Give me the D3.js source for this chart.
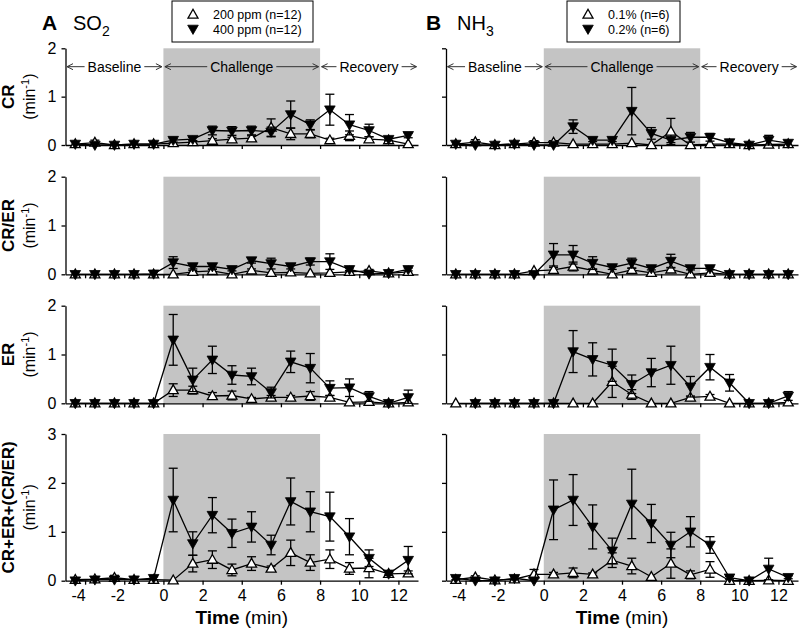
<!DOCTYPE html>
<html><head><meta charset="utf-8">
<script src="https://cdn.jsdelivr.net/npm/d3@7"></script>
<style>body{margin:0;background:#fff;} svg{display:block;font-family:"Liberation Sans",Arial,sans-serif;}</style>
</head><body>
<svg id="chart" width="800" height="630"></svg>
<script>
const time = [-4.5,-3.5,-2.5,-1.5,-0.5,0.5,1.5,2.5,3.5,4.5,5.5,6.5,7.5,8.5,9.5,10.5,11.5,12.5];
const xTicks = [-4,-2,0,2,4,6,8,10,12];
const rowLabels = ["CR","CR/ER","ER","CR+ER+(CR/ER)"];
const rowMax = [2,2,2,3];
const phases = [{name:"Baseline",from:-5,to:0},{name:"Challenge",from:0,to:8},{name:"Recovery",from:8,to:13}];
const legendSO2 = ["200 ppm (n=12)","400 ppm (n=12)"];
const legendNH3 = ["0.1% (n=6)","0.2% (n=6)"];

// SO2 column
const so2_cr_200    = [0.02,0.05,0,0.02,0.02,0.04,0.06,0.09,0.12,0.14,0.36,0.23,0.23,0.1,0.19,0.12,0.1,0.02];
const so2_cr_200_se = [0.01,0.05,0,0.01,0.01,0.02,0.03,0.04,0.04,0.05,0.18,0.12,0.08,0.04,0.1,0.05,0.03,0.01];
const so2_cr_400    = [0.02,0,0,0.02,0.02,0.1,0.12,0.3,0.29,0.3,0.27,0.63,0.42,0.73,0.42,0.3,0.12,0.2];
const so2_cr_400_se = [0.02,0.02,0,0.02,0.02,0.04,0.04,0.09,0.09,0.09,0.1,0.28,0.1,0.32,0.21,0.13,0.03,0.05];

const so2_crer_200    = [0,0,0,0,0,0,0.05,0.07,0,0.08,0.03,0.04,0.02,0.03,0.05,0.07,0.02,0.05];
const so2_crer_200_se = [0,0,0,0,0,0,0.03,0.03,0,0.03,0.02,0.02,0.02,0.02,0.03,0.03,0.01,0.02];
const so2_crer_400    = [0,0,0,0,0.01,0.24,0.16,0.16,0.1,0.28,0.22,0.16,0.26,0.26,0.1,0.01,0.02,0.1];
const so2_crer_400_se = [0,0,0,0,0.01,0.12,0.05,0.05,0.03,0.05,0.11,0.05,0.07,0.16,0.03,0.01,0.01,0.03];

const so2_er_200    = [0,0,0,0,0,0.27,0.27,0.15,0.16,0.09,0.12,0.12,0.15,0.12,0.02,0.03,0,0.02];
const so2_er_200_se = [0,0,0,0,0,0.13,0.08,0.07,0.09,0.03,0.04,0.04,0.09,0.04,0.01,0.02,0,0.01];
const so2_er_400    = [0,0,0,0,0,1.3,0.48,0.89,0.58,0.55,0.22,0.85,0.72,0.31,0.32,0.14,0,0.12];
const so2_er_400_se = [0,0,0,0,0,0.52,0.24,0.28,0.19,0.17,0.11,0.22,0.3,0.15,0.18,0.1,0,0.15];

const so2_sum_200    = [0.02,0.03,0.06,0.02,0.02,0.01,0.35,0.43,0.22,0.35,0.25,0.57,0.37,0.44,0.25,0.26,0.14,0.15];
const so2_sum_200_se = [0.01,0.02,0.05,0.01,0.02,0.01,0.17,0.18,0.12,0.14,0.05,0.26,0.16,0.19,0.12,0.2,0.03,0.05];
const so2_sum_400    = [0,0.02,0.02,0.02,0.05,1.65,0.76,1.34,0.97,1.1,0.73,1.62,1.41,1.31,0.9,0.46,0.14,0.42];
const so2_sum_400_se = [0.01,0.02,0.02,0.02,0.03,0.65,0.24,0.36,0.29,0.31,0.2,0.48,0.41,0.5,0.37,0.17,0.03,0.28];

// NH3 column
const nh3_cr_01    = [0.02,0.06,0,0.02,0.05,0.05,0.02,0.02,0.02,0.04,0,0.28,0,0.02,0.02,0,0.01,0.02];
const nh3_cr_01_se = [0.01,0.05,0,0.01,0.04,0.04,0.01,0.01,0.01,0.02,0,0.27,0,0.01,0.01,0,0.01,0.01];
const nh3_cr_02    = [0.02,0,0,0.02,0,0,0.38,0.1,0.1,0.7,0.24,0.1,0.16,0.16,0.05,0,0.1,0.04];
const nh3_cr_02_se = [0.02,0.02,0,0.02,0.02,0.02,0.14,0.03,0.03,0.49,0.12,0.05,0.1,0.08,0.02,0,0.1,0.02];

const nh3_crer_01    = [0,0,0,0,0.07,0.09,0.16,0.08,0,0.09,0.03,0.1,0,0.03,0,0,0,0];
const nh3_crer_01_se = [0,0,0,0,0.02,0.05,0.09,0.03,0,0.03,0.02,0.04,0,0.02,0,0,0,0];
const nh3_crer_02    = [0,0,0,0,0,0.4,0.4,0.23,0.14,0.23,0.12,0.27,0.12,0.12,0,0,0,0];
const nh3_crer_02_se = [0,0,0,0,0,0.23,0.19,0.13,0.04,0.1,0.03,0.14,0.03,0.03,0,0,0,0];

const nh3_er_01    = [0,0,0,0,0,0,0,0,0.44,0.18,0,0,0.12,0.14,0,0,0,0.02];
const nh3_er_01_se = [0,0,0,0,0,0,0,0,0.32,0.1,0,0,0.03,0.04,0,0,0,0.01];
const nh3_er_02    = [null,0,0,0,0,0,1.06,0.9,0.78,0.39,0.63,0.78,0.34,0.74,0.42,0,0,0.15];
const nh3_er_02_se = [0,0,0,0,0,0,0.43,0.34,0.33,0.19,0.29,0.39,0.21,0.26,0.17,0,0,0.09];

const nh3_sum_01    = [0.02,0.07,0.01,0.03,0.13,0.13,0.16,0.13,0.42,0.3,0.08,0.35,0.12,0.23,0,0,0.01,0];
const nh3_sum_01_se = [0.01,0.03,0.01,0.02,0.1,0.04,0.1,0.03,0.15,0.16,0.02,0.3,0.08,0.16,0,0,0.01,0];
const nh3_sum_02    = [0.05,0,0,0.05,0,1.45,1.65,1.1,0.61,1.57,1.17,0.73,1.0,0.73,0.06,0,0.24,0.07];
const nh3_sum_02_se = [0.03,0.02,0,0.03,0.02,0.61,0.52,0.45,0.26,0.71,0.39,0.26,0.31,0.17,0.03,0,0.22,0.03];

const so2Rows = [
  [so2_cr_200,so2_cr_200_se,so2_cr_400,so2_cr_400_se],
  [so2_crer_200,so2_crer_200_se,so2_crer_400,so2_crer_400_se],
  [so2_er_200,so2_er_200_se,so2_er_400,so2_er_400_se],
  [so2_sum_200,so2_sum_200_se,so2_sum_400,so2_sum_400_se]];
const nh3Rows = [
  [nh3_cr_01,nh3_cr_01_se,nh3_cr_02,nh3_cr_02_se],
  [nh3_crer_01,nh3_crer_01_se,nh3_crer_02,nh3_crer_02_se],
  [nh3_er_01,nh3_er_01_se,nh3_er_02,nh3_er_02_se],
  [nh3_sum_01,nh3_sum_01_se,nh3_sum_02,nh3_sum_02_se]];

const svg = d3.select("#chart");
const rowPix = [[145,48.3],[274.3,176.7],[403.3,305.7],[580.7,434]];
const cols = [
  {x: d3.scaleLinear().domain([-5,13]).range([65.5,418]), rows: so2Rows, yLabels:true},
  {x: d3.scaleLinear().domain([-5,13]).range([446,798]), rows: nh3Rows, yLabels:false}];

const upTri = "M0,-5.2L5,3.6L-5,3.6Z";
const downTri = "M0,5.4L5.3,-3.8L-5.3,-3.8Z";
const SW = 1.3;

cols.forEach((col, ci) => {
  const x = col.x;
  rowPix.forEach((rp, ri) => {
    const y = d3.scaleLinear().domain([0,rowMax[ri]]).range(rp);
    const g = svg.append("g");
    g.append("rect").attr("x",x(0)).attr("y",y(rowMax[ri])).attr("width",x(8)-x(0))
      .attr("height",y(0)-y(rowMax[ri])).attr("fill","#c4c4c4");
    const ya = d3.axisLeft(y).tickValues(d3.range(0,rowMax[ri]+1)).tickSize(4).tickSizeOuter(0).tickPadding(5)
      .tickFormat(col.yLabels ? d3.format("d") : "");
    const yg = g.append("g").attr("transform",`translate(${x(-5)},0)`).call(ya);
    const xa = d3.axisBottom(x).tickValues(xTicks).tickSize(4).tickSizeOuter(0).tickPadding(5)
      .tickFormat(ri===3 ? d3.format("d") : "");
    const xg = g.append("g").attr("transform",`translate(0,${y(0)})`).call(xa);
    [yg,xg].forEach(a=>{
      a.select(".domain").attr("stroke","#000").attr("stroke-width",SW);
      a.selectAll(".tick line").attr("stroke","#000").attr("stroke-width",SW);
      a.selectAll(".tick text").attr("font-size",16).attr("fill","#000").attr("font-family","Liberation Sans, Arial, sans-serif");
    });
    xg.selectAll(".tick text").text(d => ri===3 ? (d<0 ? "-" + Math.abs(d) : d) : "")
      .attr("dx", d => d<0 ? -7 : 0);

    const [v1,s1,v2,s2] = col.rows[ri];
    const series = [{v:v1,s:s1,filled:false},{v:v2,s:s2,filled:true}];
    series.forEach(sr => {
      const pts = time.map((t,i)=>({t, v:sr.v[i], s:sr.s[i]})).filter(p=>p.v!==null);
      g.append("path").datum(pts).attr("fill","none").attr("stroke","#000").attr("stroke-width",SW)
        .attr("d", d3.line().x(p=>x(p.t)).y(p=>y(p.v)));
      const eb = g.append("g").attr("stroke","#000").attr("stroke-width",SW);
      pts.filter(p=>p.s>0.025).forEach(p=>{
        const lo = Math.max(0,p.v-p.s), hi = p.v+p.s;
        eb.append("line").attr("x1",x(p.t)).attr("x2",x(p.t)).attr("y1",y(lo)).attr("y2",y(hi));
        [lo,hi].forEach(e=>eb.append("line").attr("x1",x(p.t)-4.5).attr("x2",x(p.t)+4.5).attr("y1",y(e)).attr("y2",y(e)));
      });
      g.append("g").selectAll("path").data(pts).join("path")
        .attr("transform",p=>`translate(${x(p.t)},${y(p.v)})`)
        .attr("d", sr.filled ? downTri : upTri)
        .attr("fill", sr.filled ? "#000" : "#fff").attr("stroke","#000").attr("stroke-width", sr.filled?0.8:1.3);
    });

    if (ri===0) {
      const ay = y(1.62);
      const ag = g.append("g");
      phases.forEach(ph => {
        const x0 = x(ph.from)+1.5, x1 = x(ph.to)-1.5, xm = (x(ph.from)+x(ph.to))/2;
        const t = ag.append("text").attr("x",xm).attr("y",ay+5).attr("text-anchor","middle")
          .attr("font-size",14).attr("fill","#000").text(ph.name);
        const w = t.node().getComputedTextLength();
        const l = ag.append("g").attr("stroke","#333").attr("stroke-width",1).attr("fill","none");
        l.append("line").attr("x1",x0).attr("x2",xm-w/2-3).attr("y1",ay).attr("y2",ay);
        l.append("line").attr("x1",xm+w/2+3).attr("x2",x1).attr("y1",ay).attr("y2",ay);
        l.append("path").attr("d",`M${x0+6},${ay-3}L${x0},${ay}L${x0+6},${ay+3}`);
        l.append("path").attr("d",`M${x1-6},${ay-3}L${x1},${ay}L${x1-6},${ay+3}`);
      });
    }

    if (ci===0) {
      const cy = (rp[0]+rp[1])/2;
      svg.append("text").attr("transform",`translate(14,${cy}) rotate(-90)`).attr("text-anchor","middle")
        .attr("font-size",17).attr("font-weight","bold").text(rowLabels[ri]);
      const u = svg.append("text").attr("transform",`translate(35,${cy}) rotate(-90)`).attr("text-anchor","middle")
        .attr("font-size",16);
      u.append("tspan").text("(min");
      u.append("tspan").attr("font-size",11).attr("dy",-6).text("-1");
      u.append("tspan").attr("dy",6).text(")");
    }

    if (ri===3) {
      const tt = svg.append("text").attr("x",x(4)).attr("y",624).attr("text-anchor","middle").attr("font-size",19);
      tt.append("tspan").attr("font-weight","bold").text("Time");
      tt.append("tspan").text(" (min)");
    }
  });
});

function title(xL, letter, chem, sub) {
  svg.append("text").attr("x",xL).attr("y",30).attr("font-size",21).attr("font-weight","bold").text(letter);
  const t = svg.append("text").attr("x",xL+31).attr("y",30).attr("font-size",20);
  t.append("tspan").text(chem);
  t.append("tspan").attr("font-size",14).attr("dy",6).text(sub);
}
title(42,"A","SO","2");
title(426,"B","NH","3");

function legend(x0, w, labels) {
  const g = svg.append("g");
  g.append("rect").attr("x",x0).attr("y",1).attr("width",w).attr("height",41).attr("fill","#fff").attr("stroke","#000").attr("stroke-width",1);
  [upTri, downTri].forEach((d,i)=>{
    g.append("path").attr("transform",`translate(${x0+21},${14.5+i*14.5})`).attr("d",d)
      .attr("fill", i ? "#000" : "#fff").attr("stroke","#000").attr("stroke-width", i?0.8:1.3);
    g.append("text").attr("x",x0+41).attr("y",19+i*14.5).attr("font-size",12.5).text(labels[i]);
  });
}
legend(172,141,legendSO2);
legend(567,113,legendNH3);
</script>
</body></html>
